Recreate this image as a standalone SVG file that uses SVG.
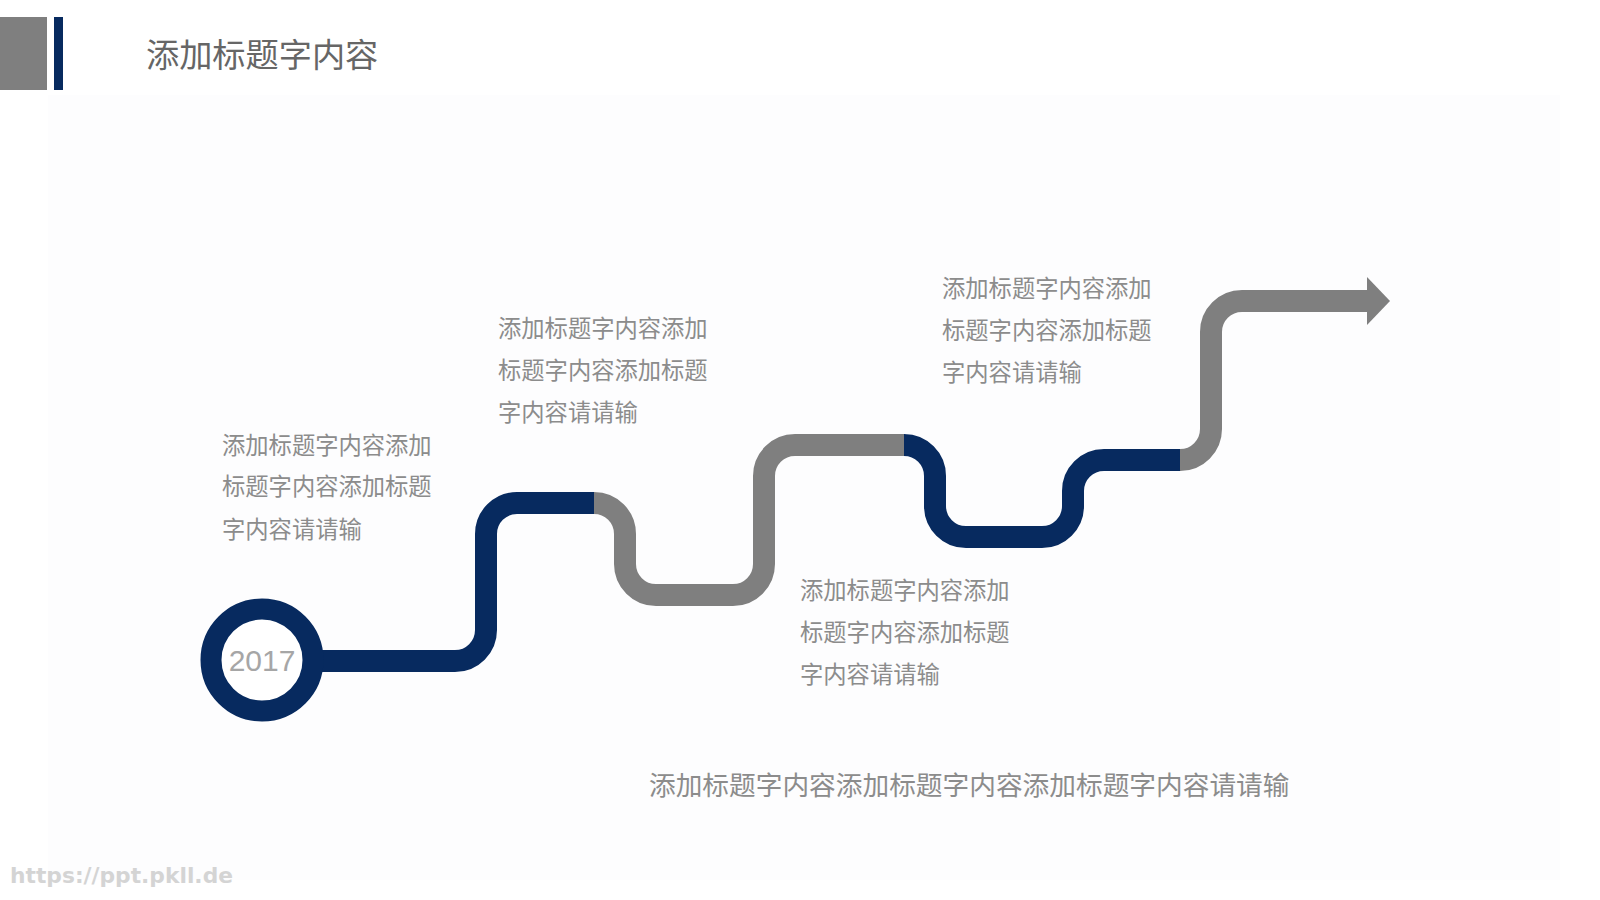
<svg xmlns="http://www.w3.org/2000/svg" width="1600" height="900" viewBox="0 0 1600 900">
  <style>
    .road { fill: none; stroke-width: 22; stroke-linecap: butt; stroke-linejoin: round; }
    .blue { stroke: #072a5f; }
    .gray { stroke: #7f7f7f; }
    .txt { font-family: "Noto Sans CJK SC", "Noto Sans", sans-serif; font-size: 23.3px; fill: #8c8c8c; }
  </style>
  <rect x="0" y="0" width="1600" height="900" fill="#ffffff"/>
  <rect x="48" y="95" width="1512" height="785" fill="#fdfdfe"/>

  <g id="header">
    <rect x="0" y="17" width="47" height="73" fill="#7f7f7f"/>
    <rect x="54" y="17" width="9" height="73" fill="#072a5f"/>
    <text x="146" y="67" font-family="Noto Sans CJK SC, Noto Sans, sans-serif" font-size="33.2" fill="#666666">添加标题字内容</text>
  </g>

  <g id="connectors">
    <path class="road blue" d="M 310 661 H 455 A 31 31 0 0 0 486 630 V 534 A 31 31 0 0 1 517 503 H 594.5"/>
    <path class="road gray" d="M 594 503 A 31 31 0 0 1 625 534 V 564 A 31 31 0 0 0 656 595 H 733 A 31 31 0 0 0 764 564 V 476 A 31 31 0 0 1 795 445 H 904.5"/>
    <path class="road blue" d="M 904 445 A 31 31 0 0 1 935 476 V 506 A 31 31 0 0 0 966 537 H 1042 A 31 31 0 0 0 1073 506 V 491 A 31 31 0 0 1 1104 460 H 1180.5"/>
    <path class="road gray" d="M 1180 460 A 31 31 0 0 0 1211 429 V 332 A 31 31 0 0 1 1242 301 H 1368"/>
    <polygon points="1367,277 1390,301 1367,325" fill="#7f7f7f"/>
  </g>

  <g id="start-node">
    <circle cx="262" cy="660" r="51" fill="#ffffff" stroke="#072a5f" stroke-width="21"/>
    <text x="262" y="671" text-anchor="middle" font-family="Liberation Sans, Arial, sans-serif" font-size="30" fill="#a6a6a6">2017</text>
  </g>

  <g id="text-block-1" class="txt">
    <text x="222" y="454">添加标题字内容添加</text>
    <text x="222" y="495">标题字内容添加标题</text>
    <text x="222" y="538">字内容请请输</text>
  </g>

  <g id="text-block-2" class="txt">
    <text x="498" y="337">添加标题字内容添加</text>
    <text x="498" y="379">标题字内容添加标题</text>
    <text x="498" y="421">字内容请请输</text>
  </g>

  <g id="text-block-3" class="txt">
    <text x="942" y="297">添加标题字内容添加</text>
    <text x="942" y="339">标题字内容添加标题</text>
    <text x="942" y="381">字内容请请输</text>
  </g>

  <g id="text-block-4" class="txt">
    <text x="800" y="599">添加标题字内容添加</text>
    <text x="800" y="641">标题字内容添加标题</text>
    <text x="800" y="683">字内容请请输</text>
  </g>

  <g id="summary">
    <text x="649" y="795" font-family="Noto Sans CJK SC, Noto Sans, sans-serif" font-size="26.7" fill="#8c8c8c">添加标题字内容添加标题字内容添加标题字内容请请输</text>
  </g>

  <g id="watermark">
    <text x="10" y="883" font-family="DejaVu Sans, sans-serif" font-weight="bold" font-size="21" fill="#d4d4d4" textLength="223" lengthAdjust="spacingAndGlyphs">https://ppt.pkll.de</text>
  </g>
</svg>
